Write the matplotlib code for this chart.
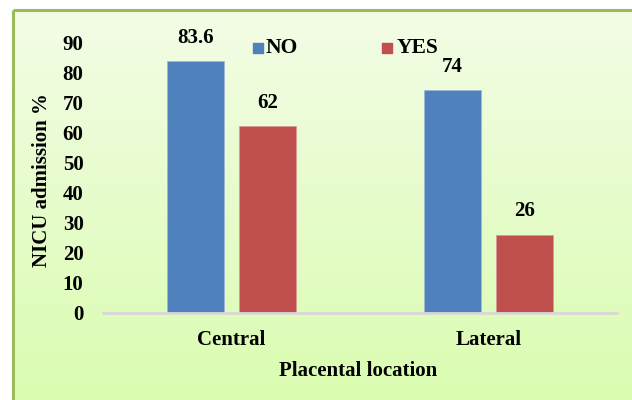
import numpy as np
import matplotlib.pyplot as plt
from matplotlib.colors import LinearSegmentedColormap
from matplotlib.patches import Rectangle

categories = ["Central", "Lateral"]
series_names = ["NO", "YES"]
no_values = [83.6, 74]
yes_values = [62, 26]
value_labels_no = ["83.6", "74"]
value_labels_yes = ["62", "26"]
y_ticks = [0, 10, 20, 30, 40, 50, 60, 70, 80, 90]

plt.rcParams["font.family"] = ["Liberation Serif", "DejaVu Serif"]
plt.rcParams["font.weight"] = "bold"
FS = 15

W, H = 632, 400
fig = plt.figure(figsize=(W / 100, H / 100), dpi=100)
fig.patch.set_facecolor("white")

# gradient background panel with green frame
bg = fig.add_axes([0, 0, 1, 1], zorder=-10)
bg.set_xlim(0, W)
bg.set_ylim(H, 0)
bg.axis("off")
cmap = LinearSegmentedColormap.from_list("bg", ["#f3fde6", "#dafcb0"])
grad = np.linspace(0, 1, 256).reshape(-1, 1)
bg.imshow(grad, cmap=cmap, aspect="auto", extent=[13, W + 2, H, 10], zorder=0)
bg.plot([13, 13], [H, 10], color="#9bbb59", lw=2.2, solid_capstyle="butt", zorder=1)
bg.plot([13, W + 2], [10, 10], color="#9bbb59", lw=2.2, solid_capstyle="butt", zorder=1)

# plot area
left, right = 103 / W, 617 / W
bottom, top = 1 - 313 / H, 1 - 12 / H
ax = fig.add_axes([left, bottom, right - left, top - bottom])
ax.patch.set_alpha(0)

x = np.arange(len(categories))
width = 0.225
off = 0.14
blue, red = "#4f81bd", "#c0504d"
bars_no = ax.bar(x - off, no_values, width, color=blue, edgecolor="#9fb8d8",
                 linewidth=0.6, label=series_names[0], zorder=2)
bars_yes = ax.bar(x + off, yes_values, width, color=red, edgecolor="#d89a98",
                  linewidth=0.6, label=series_names[1], zorder=2)

for bars, labels in ((bars_no, value_labels_no), (bars_yes, value_labels_yes)):
    for b, t in zip(bars, labels):
        ax.annotate(t, (b.get_x() + b.get_width() / 2, b.get_height()),
                    xytext=(0, 17), textcoords="offset points",
                    ha="center", va="center", fontsize=FS,
                    fontweight="bold", color="black", annotation_clip=False)

ax.set_xlim(-0.5, 1.5)
ax.set_ylim(0, 100)
ax.set_yticks(y_ticks)
ax.set_yticklabels([str(v) for v in y_ticks], fontsize=FS, fontweight="bold")
ax.set_xticks(x)
ax.set_xticklabels(categories, fontsize=FS, fontweight="bold")
ax.tick_params(axis="both", length=0)
ax.tick_params(axis="y", pad=14)
ax.tick_params(axis="x", pad=12)
for s in ("top", "right", "left"):
    ax.spines[s].set_visible(False)
ax.spines["bottom"].set_color("#d9d9d9")
ax.spines["bottom"].set_linewidth(2)

fig.text(42 / W, 1 - 180 / H, "NICU admission %", rotation=90, ha="center",
         va="center", fontsize=FS, fontweight="bold")
fig.text(358 / W, 1 - 371 / H, "Placental location", ha="center",
         va="center", fontsize=FS, fontweight="bold")

# legend entries
for (sx, tx, name, col) in ((253, 266, series_names[0], blue),
                            (382, 397, series_names[1], red)):
    bg.add_patch(Rectangle((sx, 43), 10, 10, color=col, zorder=3))
    bg.text(tx, 48, name, ha="left", va="center", fontsize=15.5,
            fontweight="bold", zorder=3)

fig.savefig("out.png", dpi=100)
